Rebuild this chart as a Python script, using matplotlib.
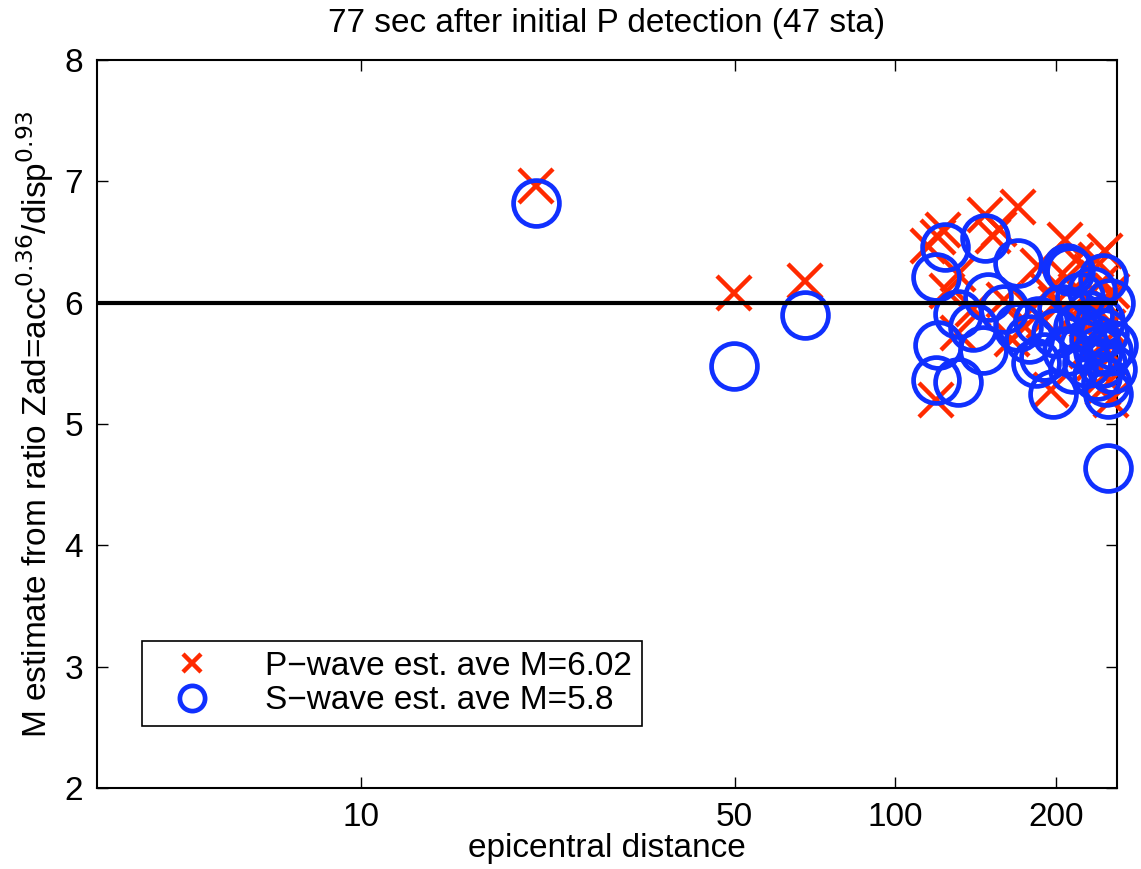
import matplotlib
matplotlib.use("Agg")
import matplotlib.pyplot as plt
from matplotlib.ticker import FixedLocator, NullLocator, FixedFormatter

plt.rcParams['font.family'] = ['Liberation Sans', 'DejaVu Sans']

# P-wave estimates (epicentral distance, magnitude)
p_dist = [21.2, 49.8, 67.6, 115, 120, 123, 119, 131, 131, 147, 156, 152, 170,
          193, 196, 208, 237, 247, 253, 125, 160, 175, 180, 190, 200, 210,
          215, 220, 225, 228, 230, 232, 235, 238, 240, 242, 244, 246, 248,
          250, 252, 254, 140, 165, 185, 218, 245]
p_mag = [6.96, 6.08, 6.18, 6.47, 6.54, 6.60, 5.20, 6.24, 5.75, 6.72, 6.61,
         6.55, 6.79, 6.10, 5.28, 6.52, 6.35, 6.43, 5.20, 6.10, 6.02, 5.80,
         5.95, 5.85, 6.00, 6.20, 5.90, 5.70, 6.05, 5.60, 5.85, 6.25, 5.50,
         5.95, 5.75, 6.15, 5.65, 5.40, 6.00, 5.80, 5.55, 6.10, 5.95, 5.70,
         6.30, 6.35, 5.30]

# S-wave estimates
s_dist = [21.2, 49.8, 67.6, 124, 147, 170, 119, 210, 212, 245, 131, 149, 120,
          119, 131, 146, 197, 250, 250, 160, 170, 178, 185, 190, 200, 205,
          210, 215, 220, 222, 225, 228, 230, 233, 235, 238, 240, 242, 244,
          246, 248, 250, 252, 254, 256, 140, 183]
s_mag = [6.82, 5.48, 5.90, 6.46, 6.53, 6.33, 6.21, 6.29, 6.26, 6.20, 5.91,
         6.05, 5.65, 5.36, 5.35, 5.61, 5.25, 5.25, 4.64, 5.95, 5.80, 5.70,
         5.85, 5.55, 5.75, 5.95, 5.60, 5.45, 5.80, 6.05, 5.65, 5.50, 5.90,
         6.10, 5.70, 5.40, 5.60, 5.85, 5.50, 5.75, 5.35, 5.60, 6.00, 5.45,
         5.65, 5.80, 5.50]

ave_line = 6.0
x_ticks = [10, 50, 100, 200]
y_ticks = [2, 3, 4, 5, 6, 7, 8]

fig = plt.figure(figsize=(11.41, 8.69), dpi=100)
ax = fig.add_axes([0.085, 0.093, 0.894, 0.838])

ax.set_xscale('log')
ax.plot(p_dist, p_mag, 'x', color='#ff2a00', markersize=24, markeredgewidth=3.2,
        clip_on=False, label='P\u2212wave est. ave M=6.02', zorder=3)
ax.plot(s_dist, s_mag, 'o', markerfacecolor='none', markeredgecolor='#1030ff',
        markersize=33, markeredgewidth=3.4, clip_on=False,
        label='S\u2212wave est. ave M=5.8', zorder=4)
ax.axhline(ave_line, color='black', linewidth=3, zorder=5)

ax.set_xlim(3.2, 260)
ax.set_ylim(2, 8)
ax.xaxis.set_major_locator(FixedLocator(x_ticks))
ax.xaxis.set_major_formatter(FixedFormatter([str(t) for t in x_ticks]))
ax.xaxis.set_minor_locator(NullLocator())
ax.set_yticks(y_ticks)

ax.tick_params(direction='in', length=8, width=1, labelsize=24,
               top=True, right=True, pad=10)
for s in ax.spines.values():
    s.set_linewidth(1.5)

ax.set_xlabel('epicentral distance', fontsize=24, labelpad=0)
ax.set_ylabel('M estimate from ratio Zad=acc$^{0.36}$/disp$^{0.93}$',
              fontsize=24, labelpad=6)
ax.set_title('77 sec after initial P detection (47 sta)', fontsize=24, pad=20)

leg = ax.legend(loc='lower left', bbox_to_anchor=(0.044, 0.085), fontsize=24,
                frameon=True, fancybox=False, framealpha=1, borderpad=0.3,
                borderaxespad=0, labelspacing=0.1, handlelength=2.4,
                handletextpad=1.0, markerscale=0.55)
leg.get_frame().set_edgecolor('black')
leg.get_frame().set_linewidth(1.2)

fig.savefig('out.png', dpi=100)
